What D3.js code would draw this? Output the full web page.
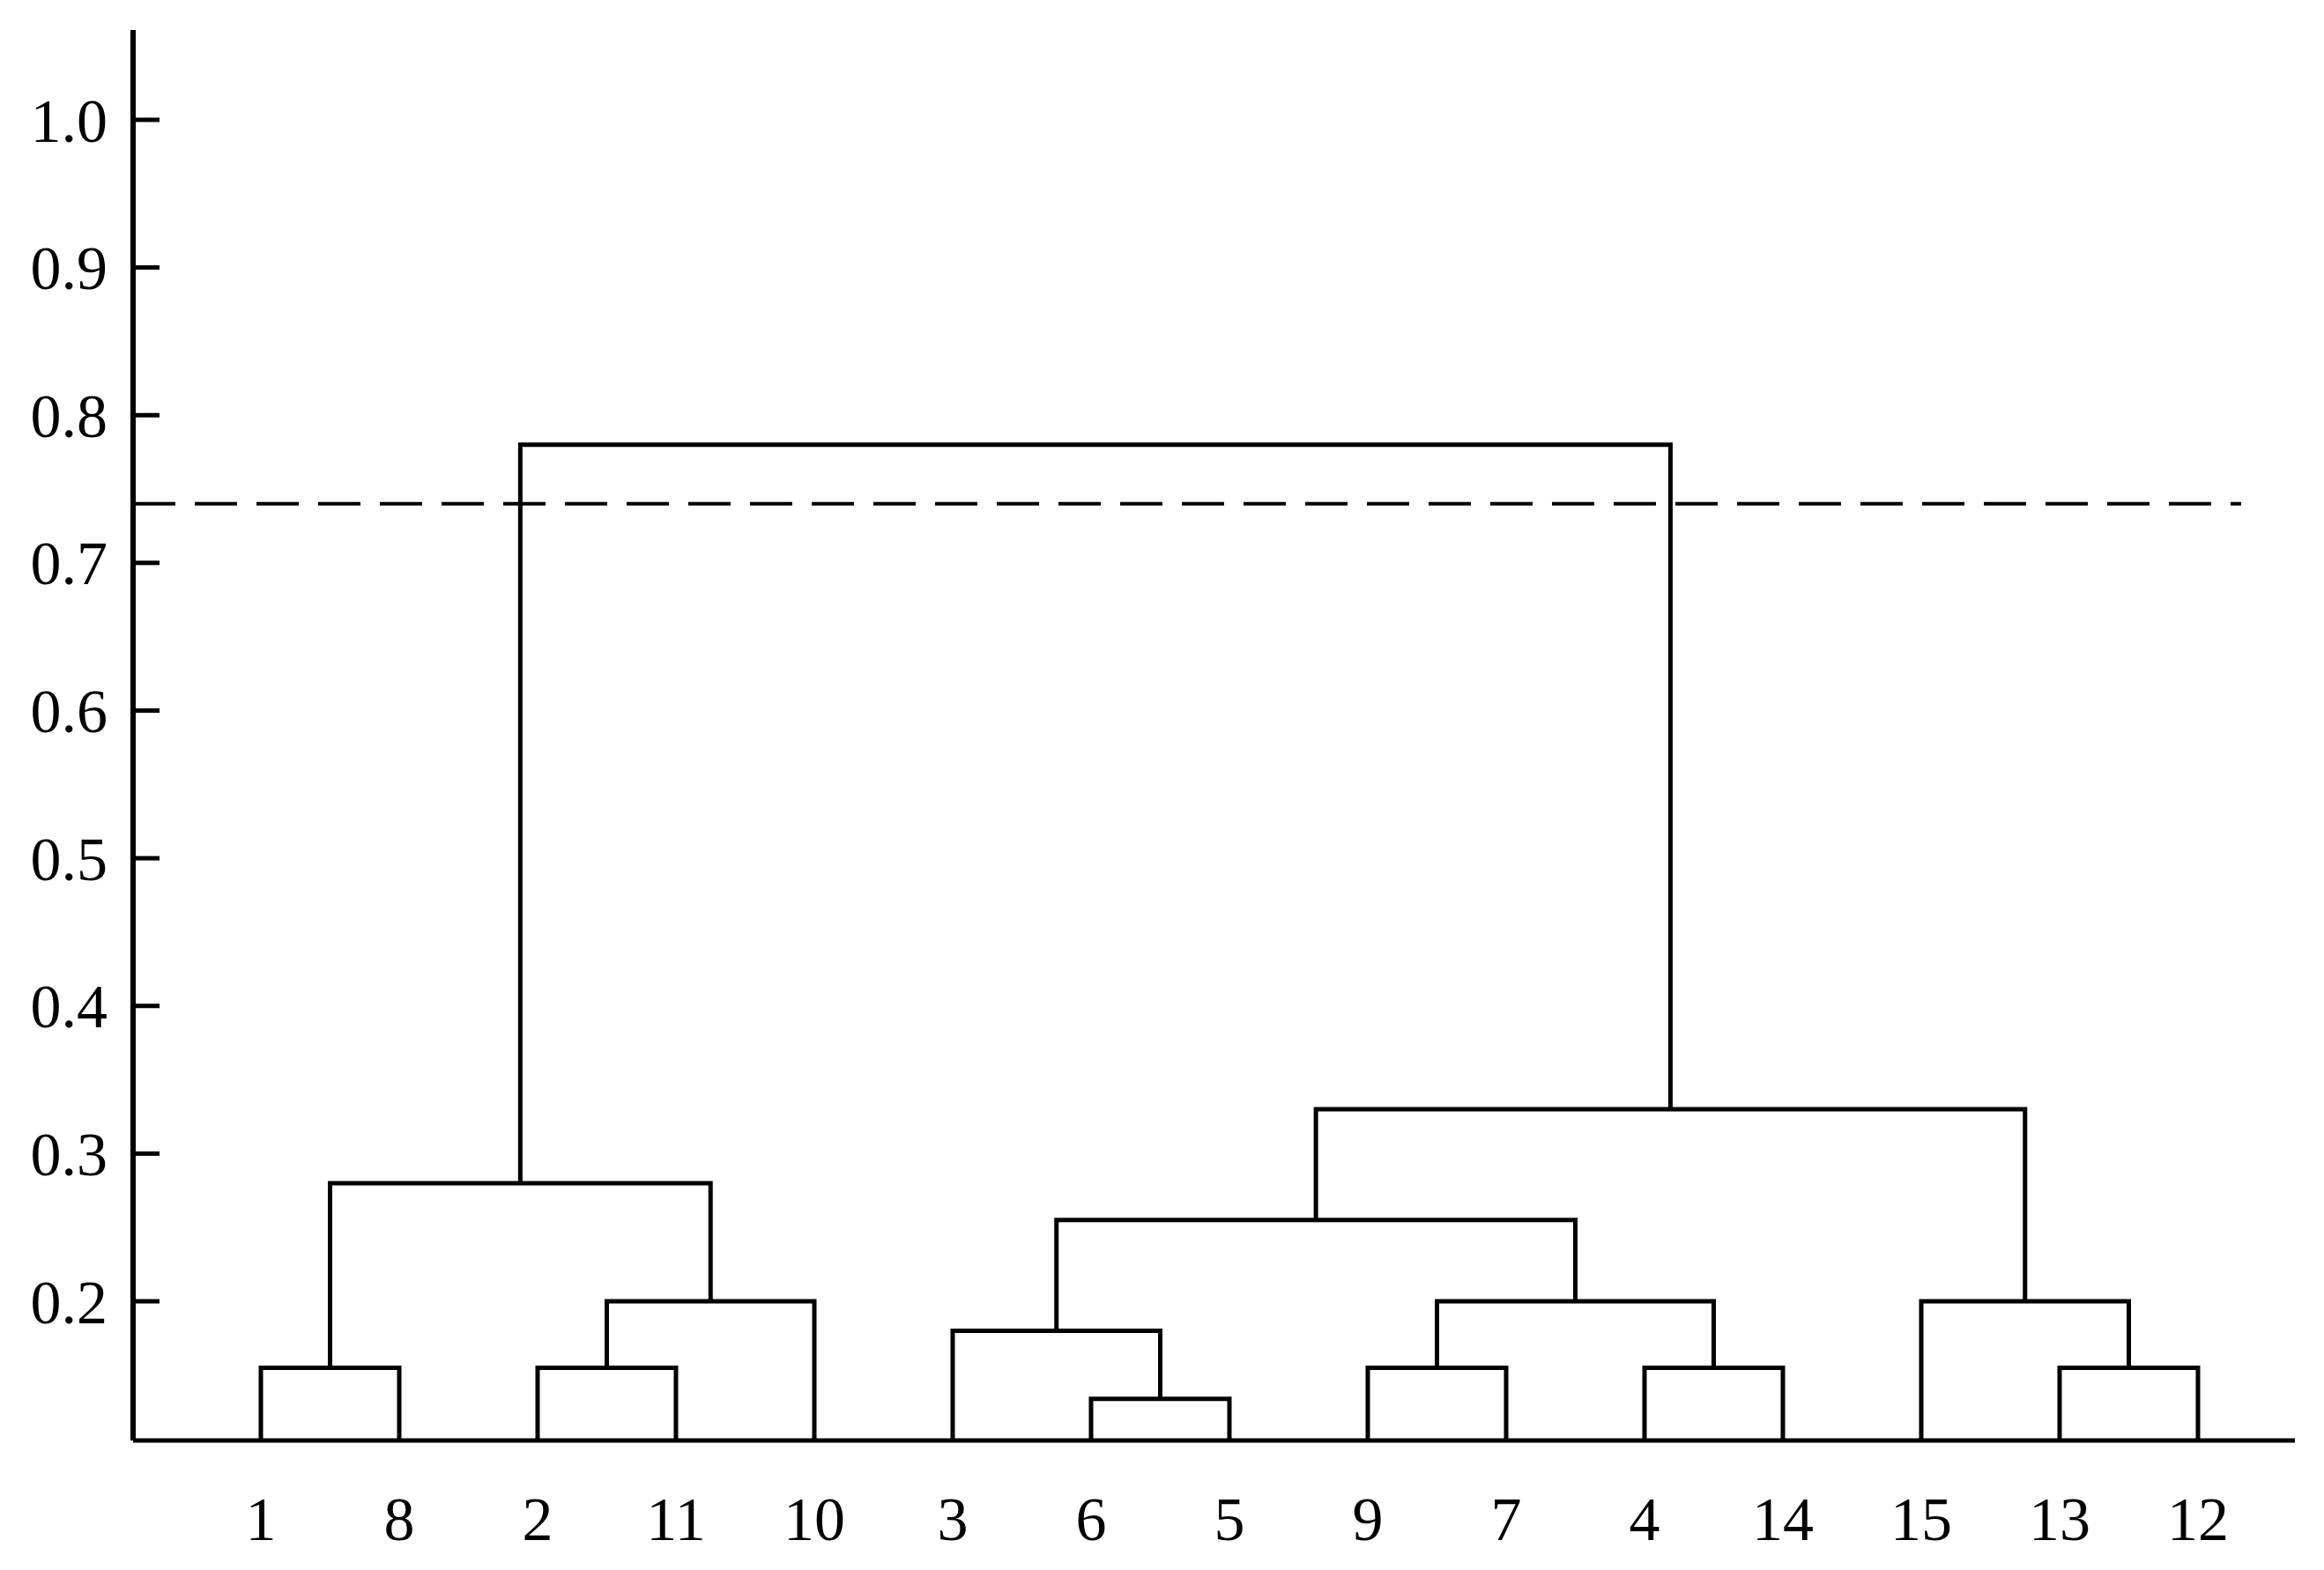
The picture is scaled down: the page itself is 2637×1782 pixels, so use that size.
<!DOCTYPE html><html><head><meta charset="utf-8">
<script src="https://cdn.jsdelivr.net/npm/d3@7"></script>
<style>body{margin:0;background:#fff}text{font-family:"Liberation Serif","DejaVu Serif",serif}</style></head><body>
<svg id="c" width="2637" height="1782"></svg>
<script>
const leaves = ["1","8","2","11","10","3","6","5","9","7","4","14","15","13","12"];
// merges: [left, right, height]; ids: leaves by label, clusters by "m"+index
const merges = [
 ["1","8",0.155],["2","11",0.155],["m1","10",0.2],["m0","m2",0.28],
 ["6","5",0.134],["3","m4",0.18],["9","7",0.155],["4","14",0.155],["m6","m7",0.2],
 ["m5","m8",0.255],["13","12",0.155],["15","m10",0.2],["m9","m11",0.33],["m3","m12",0.78]
];
const yTicks = [0.2,0.3,0.4,0.5,0.6,0.7,0.8,0.9,1.0];
const cutoff = 0.74;
const baseVal = 0.1057;

const svg = d3.select("#c");
const x = d3.scalePoint().domain(leaves).range([296,2494]);
const y = d3.scaleLinear().domain([0.2,1.0]).range([1477,136]);
const node = {};
leaves.forEach(l=>node[l]={x:x(l),h:baseVal});
const g = svg.append("g").attr("fill","none").attr("stroke","#000").attr("stroke-width",5);
merges.forEach((m,i)=>{
  const a=node[m[0]], b=node[m[1]], h=m[2];
  g.append("path").attr("d",`M${a.x},${y(a.h)}V${y(h)}H${b.x}V${y(b.h)}`);
  node["m"+i]={x:(a.x+b.x)/2,h};
});
const axisTop=34;
svg.append("line").attr("x1",151).attr("x2",151).attr("y1",axisTop).attr("y2",y(baseVal)).attr("stroke","#000").attr("stroke-width",6);
svg.append("line").attr("x1",151).attr("x2",2604).attr("y1",y(baseVal)).attr("y2",y(baseVal)).attr("stroke","#000").attr("stroke-width",5);
yTicks.forEach(t=>{
  svg.append("line").attr("x1",151).attr("x2",181).attr("y1",y(t)).attr("y2",y(t)).attr("stroke","#000").attr("stroke-width",5);
  svg.append("text").attr("x",122).attr("y",y(t)).attr("dy","0.35em").attr("text-anchor","end").attr("font-size",70).text(t.toFixed(1));
});
leaves.forEach(l=>svg.append("text").attr("x",x(l)).attr("y",1748).attr("text-anchor","middle").attr("font-size",70).text(l));
svg.append("line").attr("x1",151).attr("x2",2543).attr("y1",y(cutoff)).attr("y2",y(cutoff)).attr("stroke","#000").attr("stroke-width",4).attr("stroke-dasharray","48,22");
</script></body></html>
